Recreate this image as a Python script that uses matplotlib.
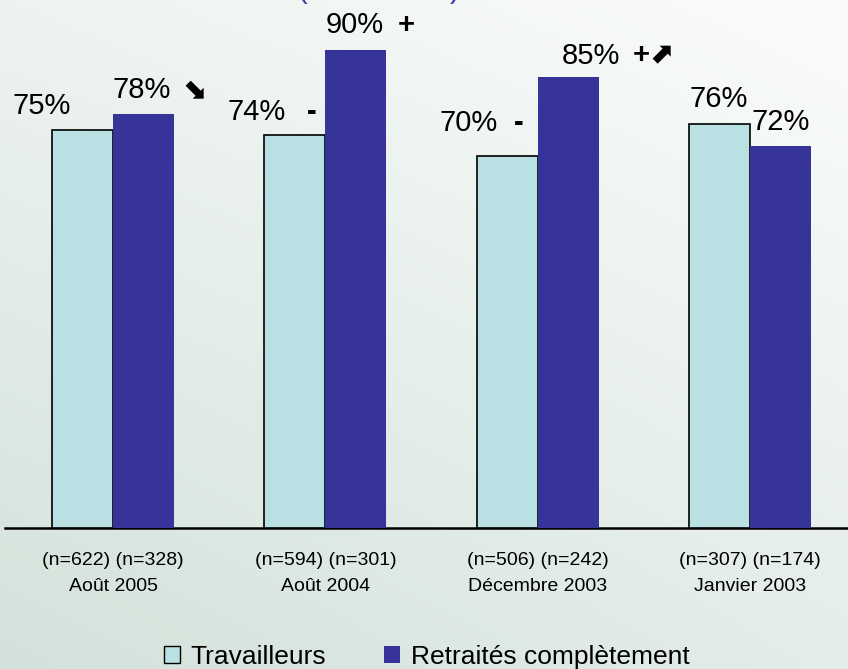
import numpy as np
import matplotlib.pyplot as plt
from matplotlib.colors import to_rgb
from matplotlib.patches import Patch

plt.rcParams['font.family'] = ['Liberation Sans', 'DejaVu Sans']

periods = ["Août 2005", "Août 2004", "Décembre 2003", "Janvier 2003"]
n_travailleurs = [622, 594, 506, 307]
n_retraites = [328, 301, 242, 174]
travailleurs = [75, 74, 70, 76]
retraites = [78, 90, 85, 72]
trend_travailleurs = ["", "-", "-", ""]
trend_retraites = ["\u2b0a", "+", "+\u2b08", ""]

light = "#b9e0e2"
dark = "#363399"

fig = plt.figure(figsize=(8.48, 6.69), dpi=100)

# soft background gradient (lighter towards the top right)
bg = fig.add_axes([0, 0, 1, 1], zorder=-10)
tl, tr = np.array(to_rgb("#eef3f0")), np.array(to_rgb("#fafcfb"))
bl, br = np.array(to_rgb("#d2e2da")), np.array(to_rgb("#e4ede8"))
u = np.linspace(0, 1, 200)[None, :, None]
v = np.linspace(0, 1, 160)[:, None, None]
grad = (1 - v) * ((1 - u) * tl + u * tr) + v * ((1 - u) * bl + u * br)
bg.imshow(grad, aspect="auto", extent=[0, 1, 0, 1], interpolation="bilinear")
bg.axis("off")

ax = fig.add_axes([5 / 848, 1 - 528 / 669, 843 / 848, 528 / 669])
ax.patch.set_alpha(0)

x = np.arange(len(periods))
w = 0.287
b1 = ax.bar(x - w / 2, travailleurs, w, color=light, edgecolor="black", linewidth=1.2, zorder=3)
b2 = ax.bar(x + w / 2, retraites, w, color=dark, edgecolor="none", zorder=3)

ax.set_xlim(-0.509, 3.462)
ax.set_ylim(0, 528 / 5.31)

for s in ["top", "right", "left"]:
    ax.spines[s].set_visible(False)
ax.spines["bottom"].set_linewidth(1.8)
ax.set_yticks([])
ax.set_xticks(x)
ax.set_xticklabels([f"(n={a}) (n={b})\n{p}" for a, b, p in zip(n_travailleurs, n_retraites, periods)],
                   fontsize=14, linespacing=1.7)
ax.tick_params(axis="x", length=0, pad=17)

# value labels: (dx, dy) of the text baseline from the bar top, in pixels
lab_light = [(-41, 16), (-38, 15), (-39, 25), (-1, 17)]
lab_dark = [(-2, 16), (-1, 17), (23, 13), (0, 16)]
mark_light = [0, 12, 7, 0]
mark_dark = [38, 42, 65, 0]

def px(p):
    return p * 72 / 100

for bars, vals, labs, marks, mx in [(b1, travailleurs, lab_light, trend_travailleurs, mark_light),
                                    (b2, retraites, lab_dark, trend_retraites, mark_dark)]:
    for bar, val, (dx, dy), m, mdx in zip(bars, vals, labs, marks, mx):
        cx = bar.get_x() + bar.get_width() / 2
        ax.annotate(f"{val}%", (cx, val), xytext=(px(dx), px(dy)), textcoords="offset points",
                    ha="center", va="baseline", fontsize=21, annotation_clip=False)
        if m:
            ax.annotate(m, (cx, val), xytext=(px(mdx), px(dy)), textcoords="offset points",
                        ha="left", va="baseline", fontsize=21, fontweight="bold",
                        annotation_clip=False)

# title line mostly above the top edge
fig.text(297 / 848, 1 + 2 / 669, "(", color="#3d3aa8", fontsize=21, va="baseline", ha="left")
fig.text(460 / 848, 1 + 2 / 669, ")", color="#3d3aa8", fontsize=21, va="baseline", ha="right")

handles = [Patch(facecolor=light, edgecolor="black", linewidth=1),
           Patch(facecolor=dark, edgecolor="none")]
fig.legend(handles, ["Travailleurs", "Retraités complètement"], loc="center",
           bbox_to_anchor=(427 / 848, 12 / 669), ncol=2, frameon=False, fontsize=19,
           handlelength=0.6, handleheight=0.6, handletextpad=0.4, columnspacing=2.2)

fig.savefig("out.png", dpi=100)
